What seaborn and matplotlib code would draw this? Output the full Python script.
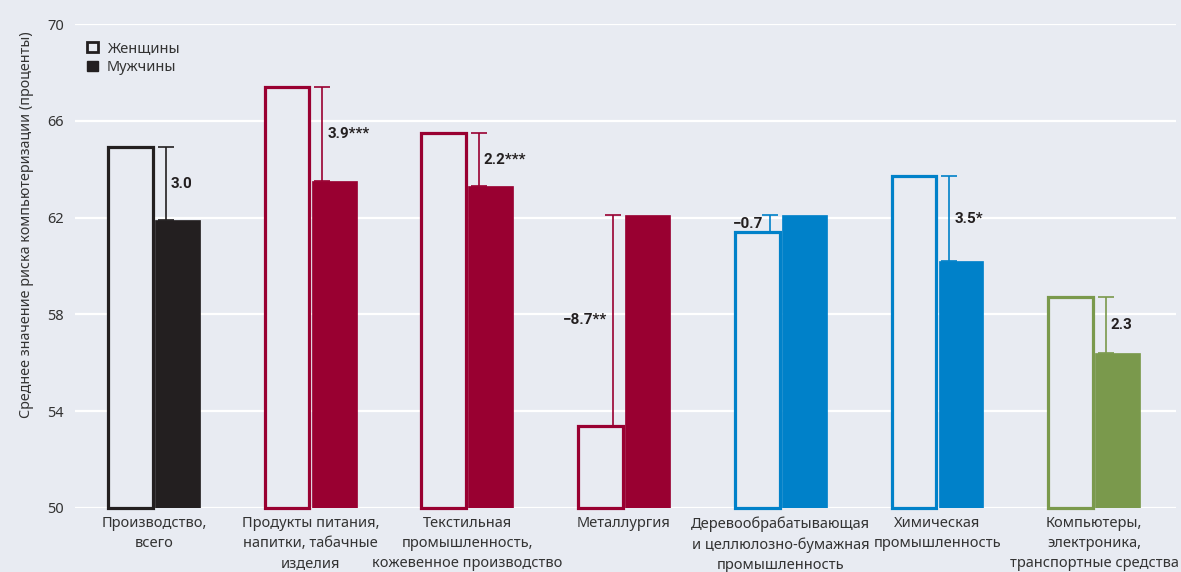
import numpy as np
import pandas as pd
import matplotlib
matplotlib.use("Agg")
import matplotlib.pyplot as plt
import seaborn as sns
from matplotlib.patches import Patch
from matplotlib import font_manager

# ---------------- data ----------------
categories = [
    "Производство,\nвсего",
    "Продукты питания,\nнапитки, табачные\nизделия",
    "Текстильная\nпромышленность,\nкожевенное производство",
    "Металлургия",
    "Деревообрабатывающая\nи целлюлозно-бумажная\nпромышленность",
    "Химическая\nпромышленность",
    "Компьютеры,\nэлектроника,\nтранспортные средства",
]
women = [64.9, 67.4, 65.5, 53.4, 61.4, 63.7, 58.7]
men = [61.9, 63.5, 63.3, 62.1, 62.1, 60.2, 56.4]
diff_labels = ["3.0", "3.9***", "2.2***", "\u22128.7**", "\u22120.7", "3.5*", "2.3"]
group_colors = ["#231f20", "#990031", "#990031", "#990031", "#0081c9", "#0081c9", "#7a994c"]
sex_labels = ["Женщины", "Мужчины"]
y_ticks = [50, 54, 58, 62, 66, 70]
y_label = "Среднее значение риска компьютеризации (проценты)"

BG = "#e8ebf2"
TXT = "#333333"

names = {f.name for f in font_manager.fontManager.ttflist}
main_font = "Noto Sans" if "Noto Sans" in names else "DejaVu Sans"
ann_font = "Liberation Sans Narrow" if "Liberation Sans Narrow" in names else "Roboto"

sns.set_theme(style="white")
plt.rcParams["font.family"] = [main_font, "DejaVu Sans"]

df = pd.DataFrame({
    "cat": categories * 2,
    "sex": [sex_labels[0]] * len(categories) + [sex_labels[1]] * len(categories),
    "val": women + men,
})

fig = plt.figure(figsize=(11.81, 5.72), dpi=100, facecolor=BG)
ax = fig.add_axes([0.0635, 0.112, 0.932, 0.846])
ax.set_facecolor(BG)

sns.barplot(data=df, x="cat", y="val", hue="sex", hue_order=sex_labels,
            order=categories, width=0.6, gap=0.045, dodge=True,
            errorbar=None, legend=False, ax=ax, zorder=3)

ax.set_ylim(50, 70)
ax.set_xlim(-0.503, 6.52)

# restyle bars: women = outline, men = filled; bars start at 50
for i, p in enumerate(ax.containers[0]):
    h = p.get_height()
    p.set_y(50)
    p.set_height(h - 50)
    p.set_facecolor(BG)
    p.set_edgecolor(group_colors[i])
    p.set_linewidth(2.3)
    p.set_clip_on(False)
for i, p in enumerate(ax.containers[1]):
    h = p.get_height()
    p.set_y(50)
    p.set_height(h - 50)
    p.set_facecolor(group_colors[i])
    p.set_edgecolor(group_colors[i])
    p.set_linewidth(0.5)

# grid
ax.set_yticks(y_ticks)
ax.yaxis.grid(True, color="white", linewidth=1.6, zorder=0)
ax.xaxis.grid(False)
ax.set_axisbelow(True)
for s in ax.spines.values():
    s.set_visible(False)
ax.tick_params(axis="both", length=0, colors=TXT, labelsize=10.5)
ax.tick_params(axis="y", pad=8)
ax.tick_params(axis="x", pad=6)
ax.set_xticks(range(len(categories)))
ax.set_xticklabels(categories, linespacing=1.45, color=TXT, fontsize=10.5)
ax.set_xlabel("")
ax.set_ylabel(y_label, fontsize=10.3, color=TXT)
ax.yaxis.set_label_coords(-0.037, 0.585)

# difference markers
for i in range(len(categories)):
    w, m = women[i], men[i]
    d = w - m
    xo = i + (0.076 if d > 0 else -0.07)
    ax.errorbar(xo, (w + m) / 2, yerr=abs(d) / 2, fmt="none",
                ecolor=group_colors[i], elinewidth=1.2, capsize=6,
                capthick=1.2, zorder=4)
    if d > 0:
        ax.text(xo + 0.03, (w + m) / 2, diff_labels[i], ha="left", va="center",
                fontsize=11, fontweight="bold", color="#231f20",
                family=[ann_font, "DejaVu Sans"], zorder=5)
    else:
        ax.text(xo - 0.04, (w + m) / 2, diff_labels[i], ha="right", va="center",
                fontsize=11, fontweight="bold", color="#231f20",
                family=[ann_font, "DejaVu Sans"], zorder=5)

handles = [Patch(facecolor=BG, edgecolor="#231f20", linewidth=2.0, label=sex_labels[0]),
           Patch(facecolor="#231f20", edgecolor="#231f20", linewidth=1.0, label=sex_labels[1])]
leg = ax.legend(handles=handles, loc="upper left", bbox_to_anchor=(0.011, 0.965),
                frameon=False, fontsize=10.5, handlelength=0.75, handleheight=0.75,
                handletextpad=0.6, labelspacing=0.28, borderaxespad=0, borderpad=0)
for t in leg.get_texts():
    t.set_color(TXT)

fig.savefig("out.png", dpi=100, facecolor=BG)
